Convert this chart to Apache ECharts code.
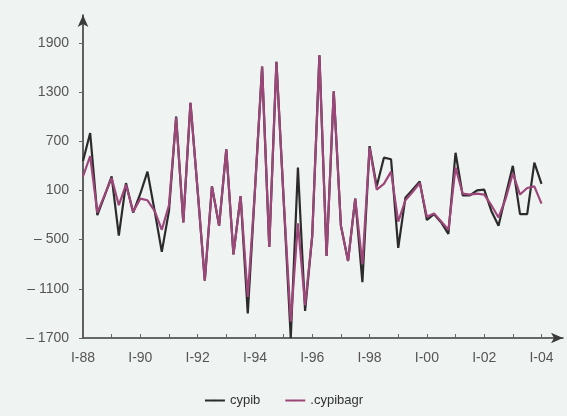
<!DOCTYPE html>
<html>
<head>
<meta charset="utf-8">
<script src="https://cdn.jsdelivr.net/npm/echarts@6/dist/echarts.min.js"></script>
<style>
html,body{margin:0;padding:0;background:#eff3f1;}
#c{width:567px;height:416px;}
</style>
</head>
<body>
<div id="c"></div>
<script>
var years = ['88','89','90','91','92','93','94','95','96','97','98','99','00','01','02','03','04'];
var quarters = ['I','II','III','IV'];
var yTicks = [-1700, -1100, -500, 100, 700, 1300, 1900];

var cypib = [460, 800, -200, 30, 270, -450, 190, -170, 60, 330,
  -150, -650, -150, 1000, -290, 1170, 100, -1000, 150, -330,
  600, -680, 30, -1400, 100, 1610, -590, 1670, 0, -1700,
  380, -1370, -450, 1750, -700, 1310, -330, -760, 0, -1020,
  640, 150, 500, 480, -600, 10, 110, 210, -260, -190,
  -290, -430, 560, 40, 40, 100, 110, -150, -330, 40,
  400, -190, -190, 440, 180];

var cypibagr = [270, 520, -170, 40, 250, -80, 170, -160, 0, -20,
  -150, -380, -80, 990, -290, 1170, 100, -1000, 150, -330,
  600, -680, 30, -1200, 100, 1610, -590, 1670, 0, -1500,
  -300, -1300, -450, 1750, -700, 1310, -330, -760, 0, -800,
  620, 110, 180, 330, -280, -20, 80, 190, -220, -180,
  -280, -380, 380, 60, 50, 60, 50, -80, -230, 0,
  310, 50, 130, 150, -60];

var categories = [];
years.forEach(function (y) {
  quarters.forEach(function (q) { categories.push(q + '-' + y); });
});

var font = 'Liberation Sans, Arial, sans-serif';
var axisColor = '#3a3a3a';

var chart = echarts.init(document.getElementById('c'));
chart.setOption({
  backgroundColor: '#eff3f1',
  animation: false,
  grid: { left: 83, right: 4, top: 15, bottom: 78, containLabel: false },
  legend: {
    bottom: 4,
    left: 'center',
    itemWidth: 20,
    itemHeight: 2,
    itemGap: 24,
    textStyle: { fontFamily: font, fontSize: 13, color: '#333' },
    data: ['cypib', '.cypibagr']
  },
  xAxis: {
    type: 'category',
    data: categories,
    boundaryGap: false,
    axisLine: {
      onZero: false,
      lineStyle: { color: axisColor, width: 1.6 },
      symbol: ['none', 'arrow'],
      symbolSize: [8, 12]
    },
    axisTick: { interval: 3, inside: true, length: 4, lineStyle: { color: '#666' } },
    axisLabel: { interval: 7, margin: 13, fontFamily: font, fontSize: 14, color: '#555' },
    splitLine: { show: false }
  },
  yAxis: {
    type: 'value',
    min: -1700,
    max: 2240,
    axisLine: {
      show: true,
      onZero: false,
      lineStyle: { color: axisColor, width: 1.6 },
      symbol: ['none', 'arrow'],
      symbolSize: [8, 12]
    },
    axisTick: { show: true, length: 4, customValues: yTicks, lineStyle: { color: '#666' } },
    axisLabel: {
      customValues: yTicks,
      margin: 14,
      fontFamily: font,
      fontSize: 14,
      color: '#555',
      formatter: function (v) { return v < 0 ? '\u2013 ' + Math.abs(v) : String(v); }
    },
    splitLine: { show: false }
  },
  series: [
    {
      name: 'cypib', type: 'line', data: cypib, symbol: 'none',
      lineStyle: { color: '#2b2b2b', width: 2.2 }, itemStyle: { color: '#2b2b2b' }
    },
    {
      name: '.cypibagr', type: 'line', data: cypibagr, symbol: 'none',
      lineStyle: { color: '#9c4679', width: 2.2 }, itemStyle: { color: '#9c4679' }
    }
  ]
});
</script>
</body>
</html>
